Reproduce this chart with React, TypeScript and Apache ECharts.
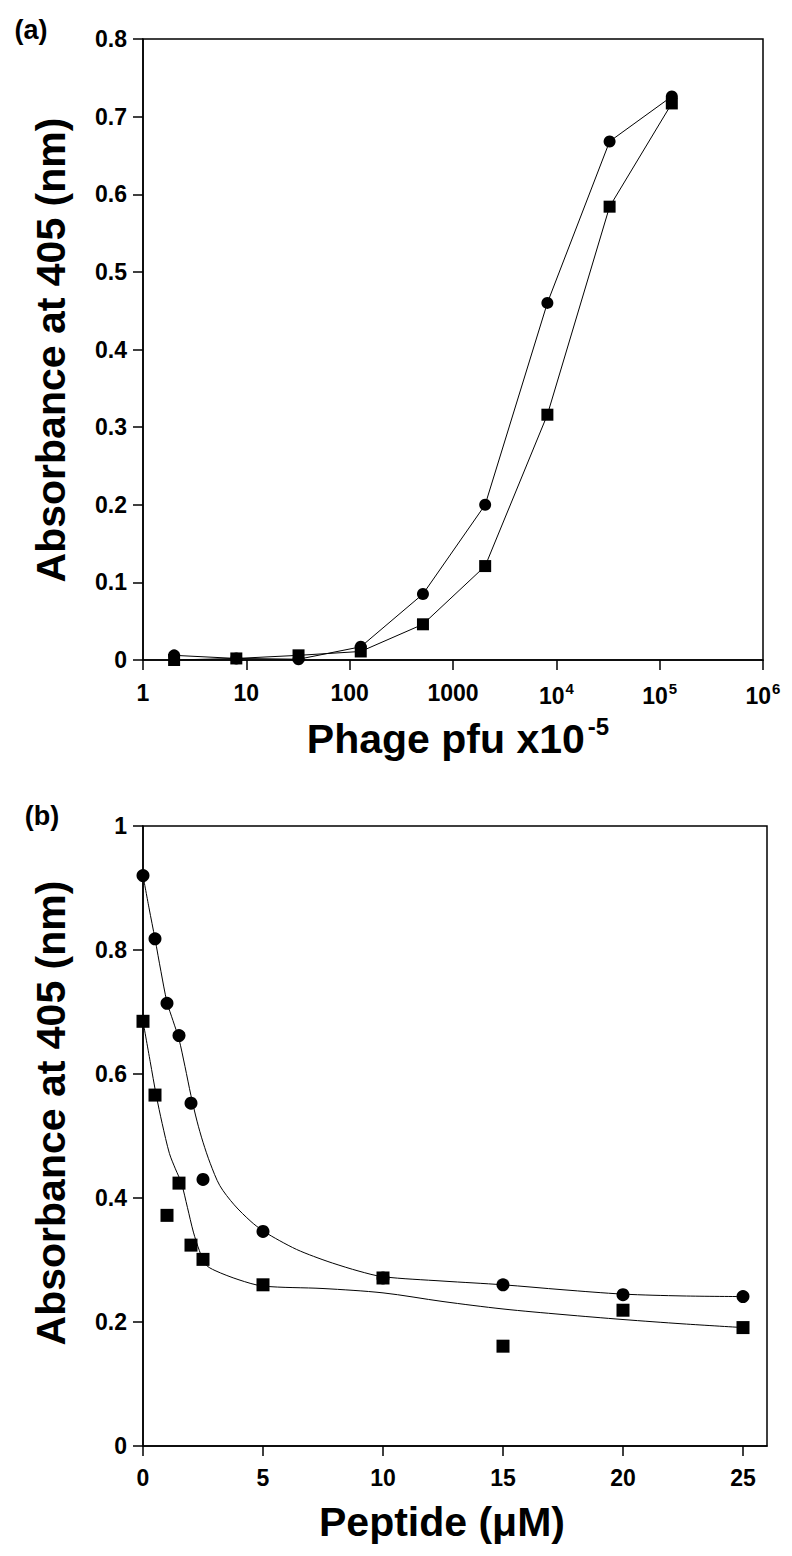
import React, { useEffect, useRef } from 'react';
import * as echarts from 'echarts';

// Panel (a): phage titration
const phageX = [2, 8, 32, 128, 512, 2048, 8192, 32768, 131072];
const phageCircle = [0.006, 0.002, 0.001, 0.017, 0.085, 0.2, 0.46, 0.668, 0.726];
const phageSquare = [0.0, 0.002, 0.006, 0.011, 0.046, 0.121, 0.316, 0.584, 0.717];
const phageTicksY = [0, 0.1, 0.2, 0.3, 0.4, 0.5, 0.6, 0.7, 0.8];

// Panel (b): peptide competition
const peptideX = [0, 0.5, 1, 1.5, 2, 2.5, 5, 10, 15, 20, 25];
const peptideCircle = [0.92, 0.818, 0.714, 0.662, 0.553, 0.43, 0.346, 0.271, 0.26, 0.244, 0.241];
const peptideSquare = [0.685, 0.566, 0.372, 0.424, 0.324, 0.301, 0.26, 0.271, 0.161, 0.219, 0.191];
const peptideTicksX = [0, 5, 10, 15, 20, 25];

// fitted curves
const circleFitX = [0, 0.25, 0.5, 0.75, 1, 1.25, 1.5, 1.75, 2, 2.25, 2.5, 2.8, 3.2, 3.8, 4.5, 5, 5.7, 6.4, 7.1, 7.9, 9, 10, 12.5, 15, 17.5, 20, 22.5, 25];
const circleFitY = [0.92, 0.868, 0.818, 0.765, 0.716, 0.686, 0.656, 0.612, 0.565, 0.524, 0.49, 0.456, 0.42, 0.389, 0.362, 0.347, 0.331, 0.317, 0.306, 0.295, 0.282, 0.273, 0.266, 0.26, 0.252, 0.245, 0.242, 0.241];
const squareFitX = [0, 0.3, 0.55, 0.8, 1.1, 1.35, 1.6, 1.85, 2.1, 2.35, 2.6, 3, 4, 5, 7.5, 10, 12.5, 15, 17.5, 20, 22.5, 25];
const squareFitY = [0.685, 0.62, 0.566, 0.52, 0.472, 0.447, 0.424, 0.385, 0.345, 0.315, 0.293, 0.283, 0.268, 0.258, 0.254, 0.247, 0.233, 0.221, 0.212, 0.204, 0.197, 0.191];

const FONT = '"Liberation Sans", Arial, Helvetica, sans-serif';
const BLACK = '#000000';

const pairs = (xs: number[], ys: number[]) => xs.map((x, i) => [x, ys[i]]);

export default function App() {
  const ref = useRef<HTMLDivElement>(null);
  useEffect(() => {
    if (!ref.current) return;
    const chart = echarts.init(ref.current, undefined, { renderer: 'svg' });

    const axisLine = { show: true, lineStyle: { color: BLACK, width: 1.5 } };
    const tickStyle = { show: true, inside: false, length: 10, lineStyle: { color: BLACK, width: 1.5 } };
    const labelBase = { color: BLACK, fontSize: 23, fontWeight: 'bold' as const, fontFamily: FONT };

    const option: any = {
      animation: false,
      backgroundColor: '#ffffff',
      grid: [
        { left: 143, top: 39, width: 620, height: 621, show: true, borderColor: BLACK, borderWidth: 1.5, backgroundColor: 'transparent' },
        { left: 143, top: 826, width: 624, height: 620, show: true, borderColor: BLACK, borderWidth: 1.5, backgroundColor: 'transparent' },
      ],
      xAxis: [
        {
          gridIndex: 0,
          type: 'log',
          logBase: 10,
          min: 1,
          max: 1000000,
          axisLine,
          axisTick: tickStyle,
          minorTick: { show: false },
          splitLine: { show: false },
          axisLabel: {
            ...labelBase,
            margin: 21,
            formatter: (v: number) => {
              const e = Math.round(Math.log10(v));
              if (e <= 3) return '{b|' + String(Math.round(Math.pow(10, e))) + '}';
              return '{b|10}{s|' + e + '}';
            },
            rich: {
              b: { fontSize: 23, fontWeight: 'bold', fontFamily: FONT, color: BLACK },
              s: { fontSize: 15, fontWeight: 'bold', fontFamily: FONT, color: BLACK, padding: [0, 0, 14, 1] },
            },
          },
        },
        {
          gridIndex: 1,
          type: 'value',
          min: 0,
          max: 26,
          axisLine,
          axisTick: { ...tickStyle, customValues: peptideTicksX },
          splitLine: { show: false },
          axisLabel: { ...labelBase, margin: 20, customValues: peptideTicksX },
        },
      ],
      yAxis: [
        {
          gridIndex: 0,
          type: 'value',
          min: 0,
          max: 0.8,
          interval: 0.1,
          axisLine,
          axisTick: { ...tickStyle, customValues: phageTicksY },
          splitLine: { show: false },
          axisLabel: { ...labelBase, margin: 16, customValues: phageTicksY },
        },
        {
          gridIndex: 1,
          type: 'value',
          min: 0,
          max: 1,
          interval: 0.2,
          axisLine,
          axisTick: tickStyle,
          splitLine: { show: false },
          axisLabel: { ...labelBase, margin: 16 },
        },
      ],
      series: [
        {
          type: 'line',
          xAxisIndex: 0,
          yAxisIndex: 0,
          data: pairs(phageX, phageSquare),
          symbol: 'rect',
          symbolSize: 12,
          itemStyle: { color: BLACK, opacity: 1 },
          lineStyle: { color: BLACK, width: 1 },
        },
        {
          type: 'line',
          xAxisIndex: 0,
          yAxisIndex: 0,
          data: pairs(phageX, phageCircle),
          symbol: 'circle',
          symbolSize: 12,
          itemStyle: { color: BLACK, opacity: 1 },
          lineStyle: { color: BLACK, width: 1 },
        },
        {
          type: 'line',
          xAxisIndex: 1,
          yAxisIndex: 1,
          data: pairs(circleFitX, circleFitY),
          showSymbol: false,
          symbol: 'none',
          smooth: 0.3,
          lineStyle: { color: BLACK, width: 1 },
        },
        {
          type: 'line',
          xAxisIndex: 1,
          yAxisIndex: 1,
          data: pairs(squareFitX, squareFitY),
          showSymbol: false,
          symbol: 'none',
          smooth: 0.3,
          lineStyle: { color: BLACK, width: 1 },
        },
        {
          type: 'scatter',
          xAxisIndex: 1,
          yAxisIndex: 1,
          data: pairs(peptideX, peptideCircle),
          symbol: 'circle',
          symbolSize: 13,
          itemStyle: { color: BLACK, opacity: 1 },
        },
        {
          type: 'scatter',
          xAxisIndex: 1,
          yAxisIndex: 1,
          data: pairs(peptideX, peptideSquare),
          symbol: 'rect',
          symbolSize: 13,
          itemStyle: { color: BLACK, opacity: 1 },
        },
      ],
      graphic: [
        {
          type: 'text',
          x: 31,
          y: 30,
          style: { text: '(a)', fill: BLACK, fontSize: 27, fontWeight: 'bold', fontFamily: FONT, textAlign: 'center', textVerticalAlign: 'middle' },
        },
        {
          type: 'text',
          x: 42,
          y: 816,
          style: { text: '(b)', fill: BLACK, fontSize: 27, fontWeight: 'bold', fontFamily: FONT, textAlign: 'center', textVerticalAlign: 'middle' },
        },
        {
          type: 'text',
          x: 51,
          y: 350,
          rotation: Math.PI / 2,
          style: { text: 'Absorbance at 405 (nm)', fill: BLACK, fontSize: 41, fontWeight: 'bold', fontFamily: FONT, textAlign: 'center', textVerticalAlign: 'middle' },
        },
        {
          type: 'text',
          x: 51,
          y: 1113,
          rotation: Math.PI / 2,
          style: { text: 'Absorbance at 405 (nm)', fill: BLACK, fontSize: 41, fontWeight: 'bold', fontFamily: FONT, textAlign: 'center', textVerticalAlign: 'middle' },
        },
        {
          type: 'text',
          x: 458,
          y: 739,
          style: {
            text: '{m|Phage pfu x10}{s|-5}',
            fill: BLACK,
            textAlign: 'center',
            textVerticalAlign: 'middle',
            rich: {
              m: { fontSize: 41, fontWeight: 'bold', fontFamily: FONT, fill: BLACK, color: BLACK },
              s: { fontSize: 24, fontWeight: 'bold', fontFamily: FONT, fill: BLACK, color: BLACK, padding: [0, 0, 26, 3] },
            },
          },
        },
        {
          type: 'text',
          x: 442,
          y: 1522,
          style: { text: 'Peptide (\u03bcM)', fill: BLACK, fontSize: 41, fontWeight: 'bold', fontFamily: FONT, textAlign: 'center', textVerticalAlign: 'middle' },
        },
      ],
    };

    chart.setOption(option);
    return () => chart.dispose();
  }, []);

  return (
    <div
      ref={ref}
      style={{ position: 'absolute', left: 0, top: 0, width: 792, height: 1556, background: '#ffffff' }}
    />
  );
}
